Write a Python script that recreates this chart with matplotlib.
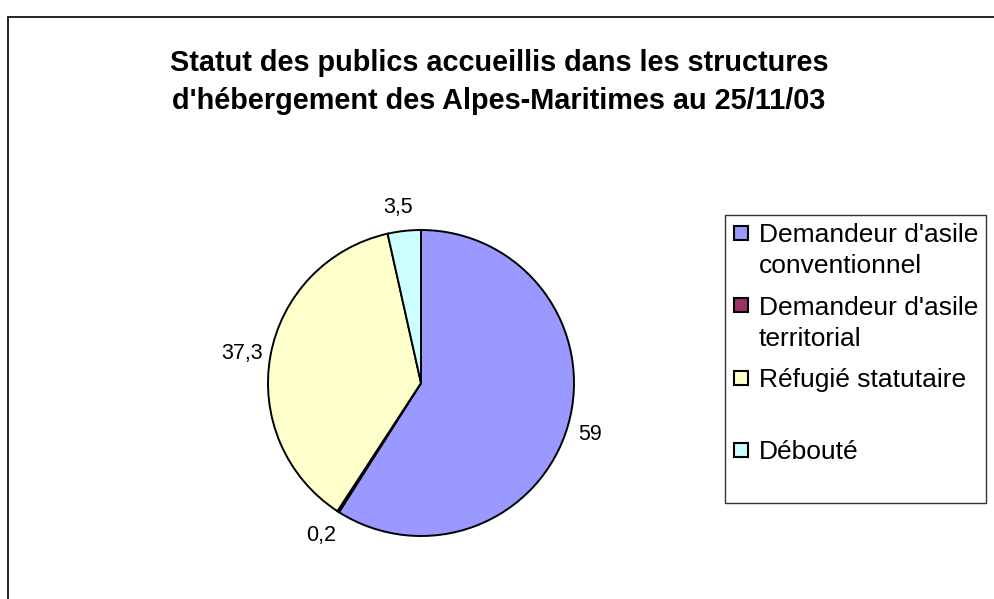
import numpy as np
import matplotlib
matplotlib.use("Agg")
import matplotlib.pyplot as plt
from matplotlib.patches import Rectangle
from matplotlib.legend_handler import HandlerBase
from matplotlib.transforms import offset_copy

# ---- data ----
title = "Statut des publics accueillis dans les structures\nd'hébergement des Alpes-Maritimes au 25/11/03"
categories = ["Demandeur d'asile\nconventionnel",
              "Demandeur d'asile\nterritorial",
              "Réfugié statutaire\n ",
              "Débouté\n "]
values = [59, 0.2, 37.3, 3.5]
value_labels = ["59", "0,2", "37,3", "3,5"]
colors = ["#9999FF", "#993366", "#FFFFCC", "#CCFFFF"]

plt.rcParams['font.family'] = ['Liberation Sans', 'DejaVu Sans']

W, H = 995, 599
fig = plt.figure(figsize=(W / 100, H / 100), dpi=100)

# outer chart frame (extends beyond right/bottom edge)
fig.patches.append(Rectangle((8 / W, -0.05), 1.2, 1 - 16.5 / H + 0.05,
                             transform=fig.transFigure, fill=False,
                             edgecolor='black', lw=1.2, zorder=0))

# pie axes positioned so that centre ~ (421, 383) px, radius ~153 px
cx, cy, r = 421, 383, 153
lim = 1.3
size = r * lim * 2
ax = fig.add_axes([(cx - size / 2) / W, (H - cy - size / 2) / H, size / W, size / H])

wedges, texts = ax.pie(values, colors=colors, startangle=90, counterclock=False,
                       labels=value_labels, labeldistance=1.17,
                       wedgeprops=dict(edgecolor='black', linewidth=1.4),
                       textprops=dict(fontsize=15.5))
for t in texts:
    t.set_horizontalalignment('center')
    t.set_verticalalignment('center')
    t.set_transform(offset_copy(t.get_transform(), fig=fig, x=-3, y=-2, units='dots'))
ax.set_xlim(-lim, lim)
ax.set_ylim(-lim, lim)
ax.set_aspect('equal')
ax.axis('off')

fig.text(0.5015, 1 - 82 / H, title, ha='center', va='center', fontsize=20.8,
         fontweight='bold', linespacing=1.42)


class SquareTop(HandlerBase):
    def create_artists(self, legend, orig_handle, xdescent, ydescent,
                       width, height, fontsize, trans):
        s = 0.53 * fontsize
        x0 = -xdescent + (width - s) / 2
        y0 = -ydescent + height / 2 - s / 2 + 0.68 * fontsize
        rect = Rectangle((x0, y0), s, s, facecolor=orig_handle.get_facecolor(),
                         edgecolor='black', lw=1.5, transform=trans)
        return [rect]


handles = [Rectangle((0, 0), 1, 1, facecolor=c) for c in colors]
leg = fig.legend(handles, categories, loc='upper left',
                 bbox_to_anchor=(725 / W, 1 - 215 / H), bbox_transform=fig.transFigure,
                 borderaxespad=0, fontsize=19, frameon=True, fancybox=False,
                 edgecolor='black', handlelength=0.55, handletextpad=0.4,
                 borderpad=0.32, labelspacing=0.66,
                 handler_map={Rectangle: SquareTop()})
for t in leg.get_texts():
    t.set_linespacing(1.36)
leg.get_frame().set_linewidth(1.0)

fig.savefig("out.png", dpi=100, facecolor='white')
